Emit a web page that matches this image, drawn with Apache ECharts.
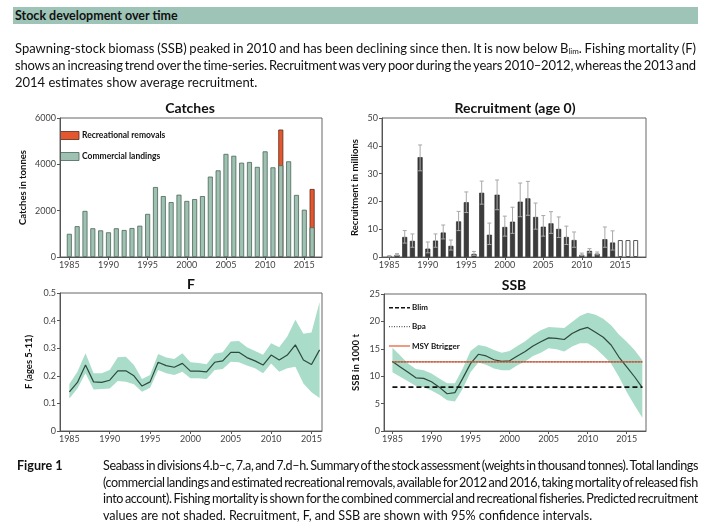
<!DOCTYPE html>
<html><head><meta charset="utf-8">
<script src="https://cdn.jsdelivr.net/npm/echarts@6/dist/echarts.min.js"></script>
<style>
html,body{margin:0;padding:0;background:#fff;}
#wrap{position:relative;width:713px;height:529px;overflow:hidden;font-family:Lato,'Open Sans',sans-serif;color:#111;}
#chart{position:absolute;left:0;top:0;width:713px;height:529px;}
.hdr{position:absolute;left:13px;top:7px;width:685px;height:17px;background:#9dc4b7;}
.hdr span{position:absolute;left:2px;top:1px;font-weight:bold;font-size:12.5px;line-height:15px;color:#111;}
.ln{position:absolute;left:15px;font-size:13px;line-height:16px;white-space:nowrap;color:#111;}
.cap{position:absolute;left:103px;font-size:12.6px;line-height:16px;white-space:nowrap;color:#111;}
.fig{position:absolute;left:17px;top:458px;font-weight:bold;font-size:12.6px;line-height:16px;}
sub{font-size:8px;vertical-align:-1px;line-height:0;}
</style></head>
<body><div id="wrap">
<div id="chart"></div>
<div class="hdr"><span>Stock development over time</span></div>
<div class="ln j" data-w="681" style="top:40px">Spawning-stock biomass (SSB) peaked in 2010 and has been declining since then. It is now below B<sub>lim</sub>. Fishing mortality (F)</div>
<div class="ln j" data-w="681" style="top:57px">shows an increasing trend over the time-series. Recruitment was very poor during the years 2010–2012, whereas the 2013 and</div>
<div class="ln" style="top:73.5px">2014 estimates show average recruitment.</div>
<div class="fig">Figure 1</div>
<div class="cap j" data-w="595" style="top:458px">Seabass in divisions 4.b–c, 7.a, and 7.d–h. Summary of the stock assessment (weights in thousand tonnes). Total landings</div>
<div class="cap j" data-w="595" style="top:474.5px">(commercial landings and estimated recreational removals, available for 2012 and 2016, taking mortality of released fish</div>
<div class="cap j" data-w="595" style="top:491px">into account). Fishing mortality is shown for the combined commercial and recreational fisheries. Predicted recruitment</div>
<div class="cap" style="top:507.5px">values are not shaded. Recruitment, F, and SSB are shown with 95% confidence intervals.</div>
</div>
<script>
// ---------- data ----------
const xTickLabels = [1985, 1990, 1995, 2000, 2005, 2010, 2015];

const catchYears = [1985,1986,1987,1988,1989,1990,1991,1992,1993,1994,1995,1996,1997,1998,1999,2000,2001,2002,2003,2004,2005,2006,2007,2008,2009,2010,2011,2012,2013,2014,2015,2016];
const commercialLandings = [1000,1330,1990,1240,1150,1065,1240,1165,1250,1350,1860,3020,2630,2370,2690,2420,2500,2630,3470,3740,4450,4370,4070,4100,3890,4560,3870,3960,4130,2680,2040,1280];
const recreationalRemovals = [null,null,null,null,null,null,null,null,null,null,null,null,null,null,null,null,null,null,null,null,null,null,null,null,null,null,null,1540,null,null,null,1655];

const recYears = [1985,1986,1987,1988,1989,1990,1991,1992,1993,1994,1995,1996,1997,1998,1999,2000,2001,2002,2003,2004,2005,2006,2007,2008,2009,2010,2011,2012,2013,2014];
const recValues = [0.3,0.8,7.2,5.8,35.9,3.0,5.9,8.8,4.0,12.8,19.7,1.1,23.1,8.0,22.4,10.8,12.7,19.9,21.1,14.4,10.9,12.1,10.1,7.2,6.1,0.8,2.2,1.2,6.4,5.2];
const recLow = [0.1,0.5,5.0,3.5,31.0,1.5,3.5,6.5,2.5,9.5,16.0,0.6,19.0,4.5,17.0,7.5,8.5,14.5,15.0,10.0,7.5,8.5,7.0,4.5,3.5,0.5,1.5,0.8,3.5,2.5];
const recHigh = [0.5,1.2,9.5,8.3,40.3,5.4,8.3,11.5,6.1,16.4,23.4,2.0,27.3,12.2,27.7,14.7,17.9,26.6,27.2,19.4,14.9,16.3,14.4,11.1,9.0,1.4,3.0,1.8,10.8,9.4];
const recPredYears = [2015,2016,2017];
const recPredValues = [6.1,6.1,6.1];

const fYears = [1985,1986,1987,1988,1989,1990,1991,1992,1993,1994,1995,1996,1997,1998,1999,2000,2001,2002,2003,2004,2005,2006,2007,2008,2009,2010,2011,2012,2013,2014,2015,2016];
const fValues = [0.142,0.176,0.239,0.178,0.176,0.184,0.218,0.218,0.200,0.163,0.178,0.249,0.237,0.231,0.245,0.217,0.217,0.214,0.249,0.254,0.285,0.285,0.266,0.254,0.239,0.275,0.257,0.275,0.312,0.257,0.241,0.294];
const fLow = [0.118,0.154,0.209,0.150,0.152,0.154,0.181,0.178,0.169,0.142,0.157,0.221,0.209,0.203,0.215,0.191,0.191,0.188,0.221,0.225,0.251,0.249,0.237,0.227,0.209,0.245,0.215,0.227,0.233,0.172,0.140,0.120];
const fHigh = [0.170,0.215,0.282,0.209,0.209,0.221,0.267,0.269,0.239,0.188,0.203,0.279,0.266,0.261,0.282,0.249,0.246,0.242,0.280,0.285,0.324,0.326,0.303,0.290,0.276,0.318,0.303,0.342,0.403,0.352,0.357,0.467];

const ssbYears = [1985,1986,1987,1988,1989,1990,1991,1992,1993,1994,1995,1996,1997,1998,1999,2000,2001,2002,2003,2004,2005,2006,2007,2008,2009,2010,2011,2012,2013,2014,2015,2016,2017];
const ssbValues = [12.7,11.7,10.7,9.7,9.6,9.0,8.0,6.8,7.0,9.6,12.3,14.0,13.7,13.0,12.7,12.8,13.7,14.5,15.5,16.3,17.0,16.9,16.7,17.8,18.5,18.9,18.0,17.1,15.7,13.5,11.7,9.9,7.9];
const ssbLow = [10.7,9.9,9.1,8.2,8.0,7.4,6.6,5.6,5.4,7.7,10.7,12.5,12.1,11.4,11.1,11.1,12.0,12.7,13.7,14.3,15.1,14.9,14.5,15.4,16.0,16.0,15.1,13.8,12.3,9.9,7.1,4.7,2.4];
const ssbHigh = [15.2,13.8,12.3,11.3,11.1,10.5,9.6,8.7,8.7,11.4,14.6,15.7,15.4,14.8,14.3,14.6,15.5,16.4,17.5,18.4,19.0,18.9,18.8,19.9,21.0,21.6,21.2,20.5,19.3,17.6,16.3,14.8,12.9];
const blim = 8.0;
const bpa = 12.6;
const msyBtrigger = 12.6;
const refYears = [1985, 2017];

// ---------- justify text lines ----------
function justifyLines() {
  document.querySelectorAll('.j').forEach(function (el) {
    const target = parseFloat(el.getAttribute('data-w'));
    el.style.wordSpacing = '0px';
    el.style.letterSpacing = '0px';
    const w = el.getBoundingClientRect().width;
    const txt = el.textContent;
    const spaces = (txt.match(/ /g) || []).length;
    let ws = (target - w) / spaces;
    if (ws < -1.0) {
      const chars = txt.length;
      const ls = (target - w + 1.0 * spaces) / chars;
      el.style.letterSpacing = ls + 'px';
      ws = -1.0;
    }
    el.style.wordSpacing = ws + 'px';
  });
}
justifyLines();
if (document.fonts && document.fonts.ready) document.fonts.ready.then(justifyLines);

// ---------- chart ----------
const AX = '#555';
const LBL = '#444';
const FONT = 'Lato, "Open Sans", sans-serif';

function xAx(gi, min, max) {
  return {
    type: 'value', gridIndex: gi, min: min, max: max,
    axisLine: { show: true, onZero: false, lineStyle: { color: AX, width: 1 } },
    axisTick: { show: true, customValues: xTickLabels, length: 3, lineStyle: { color: AX } },
    axisLabel: { customValues: xTickLabels, color: LBL, fontSize: 9, margin: 4, fontFamily: FONT, formatter: v => String(v) },
    splitLine: { show: false }
  };
}
function yAx(gi, max, interval, name, gap, fmt) {
  return {
    type: 'value', gridIndex: gi, min: 0, max: max, interval: interval,
    name: name, nameLocation: 'middle', nameGap: gap, nameRotate: 90,
    nameTextStyle: { fontWeight: 'bold', fontSize: 9.5, color: '#111', fontFamily: FONT },
    axisLine: { show: true, lineStyle: { color: AX, width: 1 } },
    axisTick: { show: true, length: 3, lineStyle: { color: AX } },
    axisLabel: { color: LBL, fontSize: 9, margin: 4, fontFamily: FONT, formatter: fmt || (v => String(v)) },
    splitLine: { show: false }
  };
}

function bandSeries(xi, years, low, high) {
  return {
    type: 'custom', xAxisIndex: xi, yAxisIndex: xi, silent: true, z: 1,
    data: [[years[0], low[0]]],
    renderItem: function (params, api) {
      const pts = [];
      for (let i = 0; i < years.length; i++) pts.push(api.coord([years[i], high[i]]));
      for (let i = years.length - 1; i >= 0; i--) pts.push(api.coord([years[i], low[i]]));
      return { type: 'polygon', shape: { points: pts }, style: { fill: '#a9dcc9', stroke: null } };
    }
  };
}

const chart = echarts.init(document.getElementById('chart'), null, { renderer: 'canvas' });

const catchTotals = catchYears.map((y, i) => recreationalRemovals[i] != null ? [y, commercialLandings[i] + recreationalRemovals[i]] : null).filter(d => d);

function gText(x, y, text, size, align) {
  return { type: 'text', x: x, y: y, silent: true,
    style: { text: text, font: 'bold ' + size + 'px ' + FONT, fill: '#111',
      align: align || 'left', verticalAlign: 'middle', textAlign: align || 'left', textVerticalAlign: 'middle' } };
}

const option = {
  animation: false,
  backgroundColor: 'transparent',
  grid: [
    { left: 60, top: 118, width: 262, height: 139, show: true, borderColor: '#666', borderWidth: 1, containLabel: false },
    { left: 382, top: 118, width: 264, height: 139, show: true, borderColor: '#666', borderWidth: 1, containLabel: false },
    { left: 60, top: 293, width: 262, height: 138, show: true, borderColor: '#666', borderWidth: 1, containLabel: false },
    { left: 384, top: 294, width: 262, height: 137, show: true, borderColor: '#666', borderWidth: 1, containLabel: false }
  ],
  xAxis: [
    xAx(0, 1983.81, 2017.26),
    xAx(1, 1984.05, 2018.34),
    xAx(2, 1983.84, 2016.3),
    xAx(3, 1983.92, 2017.47)
  ],
  yAxis: [
    yAx(0, 6000, 2000, 'Catches in tonnes', 32),
    yAx(1, 50, 10, 'Recruitment in millions', 22),
    yAx(2, 0.5, 0.1, 'F (ages 5-11)', 26, v => v === 0 ? '0' : v.toFixed(1)),
    yAx(3, 25, 5, 'SSB in 1000 t', 23)
  ],
  series: [
    // Catches
    { type: 'bar', name: 'Recreational removals', xAxisIndex: 0, yAxisIndex: 0, barWidth: 5, barGap: '-100%',
      data: catchTotals, itemStyle: { color: '#e4572e', borderColor: '#5a2a18', borderWidth: 0.8 } },
    { type: 'bar', name: 'Commercial landings', xAxisIndex: 0, yAxisIndex: 0, barWidth: 5, barGap: '-100%',
      data: catchYears.map((y, i) => [y, commercialLandings[i]]),
      itemStyle: { color: '#9fc1b1', borderColor: '#4a6659', borderWidth: 0.8 } },
    // Recruitment
    { type: 'bar', xAxisIndex: 1, yAxisIndex: 1, barWidth: 5, barGap: '-100%',
      data: recYears.map((y, i) => [y, recValues[i]]),
      itemStyle: { color: '#3c3c3c', borderColor: '#222', borderWidth: 0.6 } },
    { type: 'bar', xAxisIndex: 1, yAxisIndex: 1, barWidth: 5, barGap: '-100%',
      data: recPredYears.map((y, i) => [y, recPredValues[i]]),
      itemStyle: { color: '#ffffff', borderColor: '#555', borderWidth: 1 } },
    { type: 'custom', xAxisIndex: 1, yAxisIndex: 1, z: 5, silent: true,
      data: recYears.map((y, i) => [y, recLow[i], recHigh[i]]),
      renderItem: function (params, api) {
        const x = api.value(0);
        const lo = api.coord([x, api.value(1)]);
        const hi = api.coord([x, api.value(2)]);
        const st = { stroke: '#a8a8a8', lineWidth: 1 };
        return { type: 'group', children: [
          { type: 'line', shape: { x1: lo[0], y1: lo[1], x2: hi[0], y2: hi[1] }, style: st },
          { type: 'line', shape: { x1: hi[0] - 2, y1: hi[1], x2: hi[0] + 2, y2: hi[1] }, style: st },
          { type: 'line', shape: { x1: lo[0] - 2, y1: lo[1], x2: lo[0] + 2, y2: lo[1] }, style: st }
        ] };
      } },
    // F
    bandSeries(2, fYears, fLow, fHigh),
    { type: 'line', xAxisIndex: 2, yAxisIndex: 2, z: 3, symbol: 'none',
      data: fYears.map((y, i) => [y, fValues[i]]), lineStyle: { color: '#2d4a3e', width: 1.2 } },
    // SSB
    bandSeries(3, ssbYears, ssbLow, ssbHigh),
    { type: 'line', xAxisIndex: 3, yAxisIndex: 3, z: 3, symbol: 'none',
      data: ssbYears.map((y, i) => [y, ssbValues[i]]), lineStyle: { color: '#2d4a3e', width: 1.2 } },
    { type: 'line', xAxisIndex: 3, yAxisIndex: 3, z: 4, symbol: 'none',
      data: refYears.map(y => [y, msyBtrigger]), lineStyle: { color: '#e4572e', width: 1.2 } },
    { type: 'line', xAxisIndex: 3, yAxisIndex: 3, z: 5, symbol: 'none',
      data: refYears.map(y => [y, bpa]), lineStyle: { color: '#444', width: 1, type: [1, 2] } },
    { type: 'line', xAxisIndex: 3, yAxisIndex: 3, z: 5, symbol: 'none',
      data: refYears.map(y => [y, blim]), lineStyle: { color: '#111', width: 1.6, type: [5, 3] } }
  ],
  graphic: [
    gText(190, 108, 'Catches', 14, 'center'),
    gText(515, 108, 'Recruitment (age 0)', 14, 'center'),
    gText(191, 284, 'F', 14, 'center'),
    gText(514, 285, 'SSB', 14, 'center'),
    // catches legend
    { type: 'rect', shape: { x: 60.5, y: 131.5, width: 18.5, height: 8 }, style: { fill: '#e4572e', stroke: '#5a2a18', lineWidth: 0.8 } },
    gText(82, 135.5, 'Recreational removals', 8.5),
    { type: 'rect', shape: { x: 60.5, y: 152.5, width: 18.5, height: 8 }, style: { fill: '#9fc1b1', stroke: '#4a6659', lineWidth: 0.8 } },
    gText(82, 156.5, 'Commercial landings', 8.5),
    // SSB legend
    { type: 'line', shape: { x1: 389, y1: 307.7, x2: 410, y2: 307.7 }, style: { stroke: '#111', lineWidth: 1.4, lineDash: [4, 2] } },
    gText(412, 307.7, 'Blim', 8),
    { type: 'line', shape: { x1: 389, y1: 326.7, x2: 410, y2: 326.7 }, style: { stroke: '#333', lineWidth: 1, lineDash: [1, 1.5] } },
    gText(412, 326.7, 'Bpa', 8),
    { type: 'line', shape: { x1: 389, y1: 346, x2: 410, y2: 346 }, style: { stroke: '#e4572e', lineWidth: 1.2 } },
    gText(412, 346, 'MSY Btrigger', 8)
  ]
};
chart.setOption(option);
</script>
</body></html>
